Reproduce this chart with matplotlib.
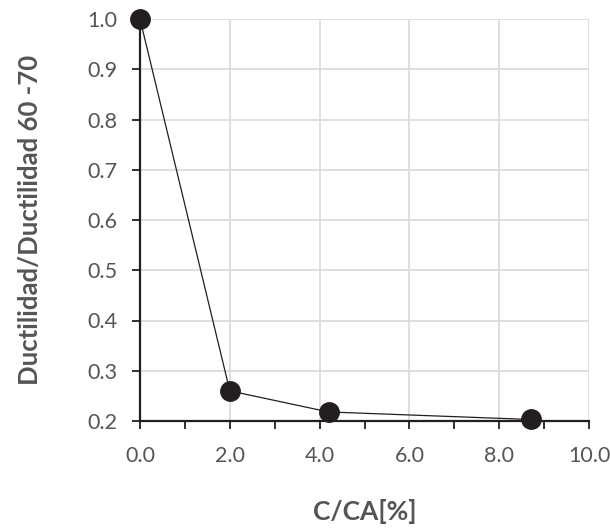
import matplotlib.pyplot as plt
from matplotlib.ticker import MultipleLocator

plt.rcParams['font.family'] = ['Lato', 'DejaVu Sans']

# C/CA [%] vs ductilidad relativa
c_ca = [0.0, 2.0, 4.2, 8.7]
ductilidad_rel = [1.0, 0.26, 0.218, 0.203]

fig = plt.figure(figsize=(6.1, 5.29), dpi=100)
ax = fig.add_axes([140 / 610, 1 - 421 / 529, 449 / 610, 402 / 529])

ax.plot(c_ca, ductilidad_rel, color="#231f20", linewidth=0.9,
        marker="o", markersize=14, markerfacecolor="#231f20",
        markeredgecolor="#231f20", clip_on=False, zorder=5)

ax.set_xlim(0, 10)
ax.set_ylim(0.2, 1.0)
ax.xaxis.set_major_locator(MultipleLocator(2))
ax.xaxis.set_minor_locator(MultipleLocator(1))
ax.yaxis.set_major_locator(MultipleLocator(0.1))
ax.xaxis.set_major_formatter(lambda v, p: f"{v:.1f}")
ax.yaxis.set_major_formatter(lambda v, p: f"{v:.1f}")

ax.grid(True, which="major", color="#dcdcdc", linewidth=1.3)
ax.set_axisbelow(True)

for s in ("top", "right"):
    ax.spines[s].set_visible(False)
for s in ("left", "bottom"):
    ax.spines[s].set_color("#231f20")
    ax.spines[s].set_linewidth(1.6)

ax.tick_params(axis="both", which="both", direction="out", color="#231f20",
               width=1.3, labelcolor="#555555", labelsize=15.5)
ax.tick_params(axis="x", which="major", length=6, pad=12)
ax.tick_params(axis="x", which="minor", length=6)
ax.tick_params(axis="y", which="major", length=6, pad=10)

ax.set_xlabel("C/CA[%]", fontsize=19, fontweight="bold", color="#555555", labelpad=24)
ax.set_ylabel("Ductilidad/Ductilidad 60 -70", fontsize=18.5, fontweight="bold",
              color="#555555", labelpad=33)

plt.savefig("out.png", dpi=100)
